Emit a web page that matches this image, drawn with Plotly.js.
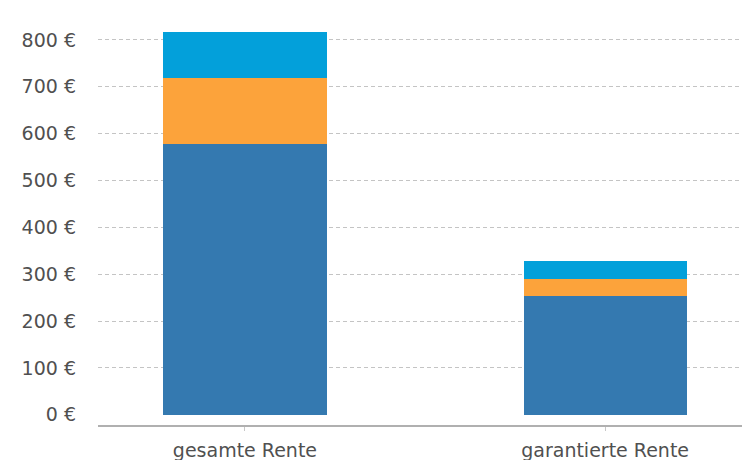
<!DOCTYPE html>
<html><head><meta charset="utf-8">
<script src="https://cdn.plot.ly/plotly-3.0.1.min.js"></script>
<style>html,body{margin:0;padding:0;background:#fff}#chart{width:742px;height:460px}</style>
</head><body><div id="chart"></div>
<script>
var categories = ["gesamte Rente", "garantierte Rente"];
var baseValues = [578, 253];
var middleValues = [140, 37];
var topValues = [100, 39];
var yTickVals = [0, 100, 200, 300, 400, 500, 600, 700, 800];
var yTickText = ["0 €", "100 €", "200 €", "300 €", "400 €", "500 €", "600 €", "700 €", "800 €"];
var gridVals = [100, 200, 300, 400, 500, 600, 700, 800];

var common = {type: 'bar', x: categories, width: 0.453, hoverinfo: 'y', showlegend: false};
var traces = [
  Object.assign({}, common, {y: baseValues, marker: {color: '#3479b0'}}),
  Object.assign({}, common, {y: middleValues, marker: {color: '#fca33b'}}),
  Object.assign({}, common, {y: topValues, marker: {color: '#03a0da'}}),
  {type: 'scatter', x: categories, y: [null, null], yaxis: 'y2', mode: 'markers', showlegend: false, hoverinfo: 'skip'}
];

var font = {family: 'DejaVu Sans, Verdana, sans-serif', size: 19, color: '#505050'};
var yr = [-22, 842.6];
var layout = {
  width: 742, height: 460,
  margin: {l: 98, r: 0, t: 20, b: 35},
  barmode: 'stack',
  paper_bgcolor: '#fff', plot_bgcolor: '#fff',
  font: font,
  xaxis: {type: 'category', range: [-0.408, 1.38], showgrid: false, zeroline: false,
          showline: true, linecolor: '#b0b0b0', linewidth: 2, ticks: 'outside', ticklen: 4, tickcolor: '#c8c8c8',
          ticklabelstandoff: 3, tickfont: font},
  yaxis: {range: yr, tickvals: gridVals, showticklabels: false, showgrid: true,
          gridcolor: '#c4c4c4', griddash: '4px,3px', gridwidth: 1, zeroline: false, showline: false, ticks: ''},
  yaxis2: {overlaying: 'y', side: 'left', anchor: 'x', range: yr, tickvals: yTickVals, ticktext: yTickText,
           showgrid: false, zeroline: false, showline: false, ticks: '', ticklabelstandoff: 21, tickfont: font}
};
Plotly.newPlot('chart', traces, layout, {displayModeBar: false, staticPlot: true});
</script></body></html>
